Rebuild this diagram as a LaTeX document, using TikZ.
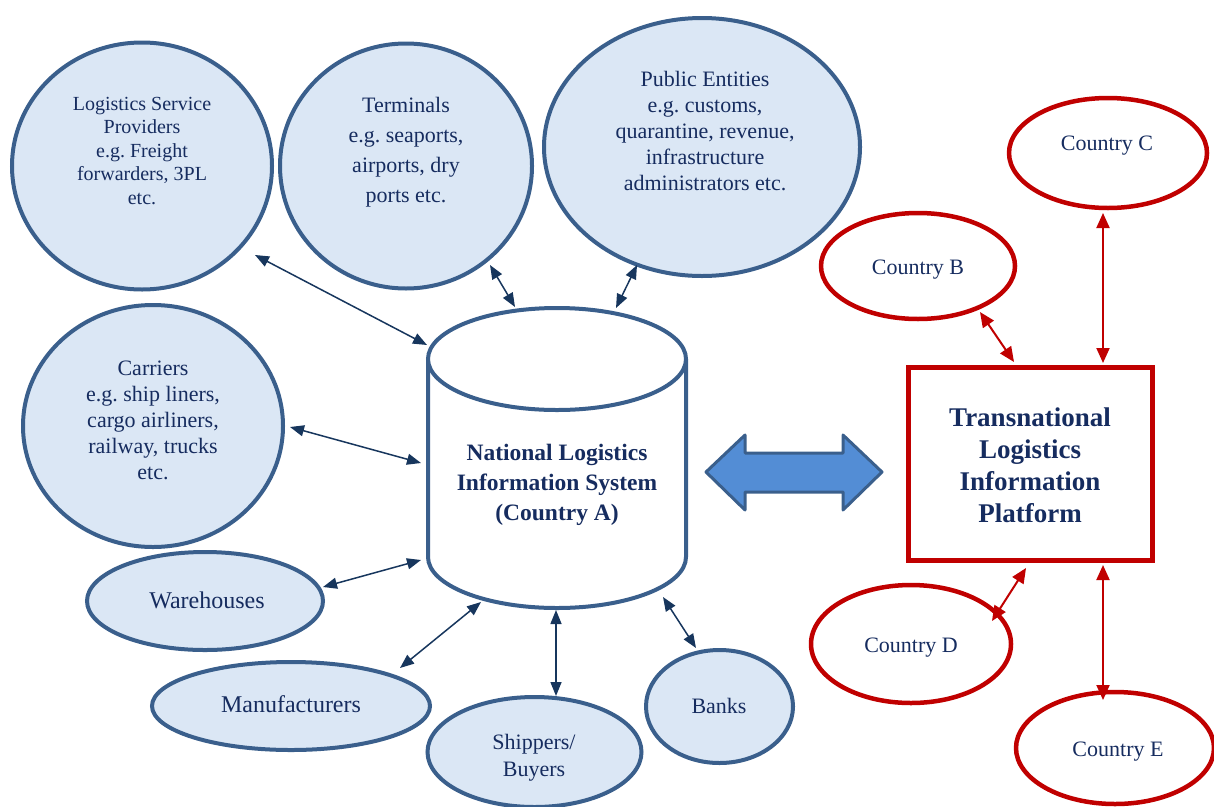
\documentclass[tikz,border=0pt]{standalone}
\usepackage{fontspec}
\setmainfont{Liberation Serif}
\frenchspacing
\usetikzlibrary{shapes.geometric,arrows.meta}
\definecolor{bstroke}{RGB}{58,95,140}
\definecolor{bfill}{RGB}{219,231,245}
\definecolor{navy}{RGB}{22,44,95}
\definecolor{connc}{RGB}{23,54,93}
\definecolor{redc}{RGB}{192,0,0}
\definecolor{arrfill}{RGB}{83,141,213}
\tikzset{
 bell/.style={ellipse, draw=bstroke, fill=bfill, line width=4pt, inner sep=0pt},
 rell/.style={ellipse, draw=redc, line width=4.5pt, inner sep=0pt},
 txt/.style={text=navy, align=center, inner sep=0pt, text height=0.7em, text depth=0.25em},
 bconn/.style={draw=connc, line width=1.5pt, {Triangle[length=14pt,width=11pt]}-{Triangle[length=14pt,width=11pt]}},
 rconn/.style={draw=redc, line width=2pt, {Triangle[length=15pt,width=13pt]}-{Triangle[length=15pt,width=13pt]}},
}
\begin{document}
\begin{tikzpicture}[x=1pt,y=-1pt]
\useasboundingbox (0,0) rectangle (1214,806);
% blue ellipses
\node[bell, minimum width=260, minimum height=247] (lsp) at (142,166) {};
\node[bell, minimum width=252, minimum height=245] (term) at (406,166) {};
\node[bell, minimum width=316, minimum height=258] (pub) at (702,147) {};
\node[bell, minimum width=260, minimum height=242] (carr) at (153,426) {};
\node[bell, minimum width=236, minimum height=98] (ware) at (205,601) {};
\node[bell, minimum width=278, minimum height=88] (manu) at (291,706) {};
\node[bell, minimum width=214, minimum height=110] (ship) at (534.5,752) {};
\node[bell, minimum width=147, minimum height=113] (bank) at (719.5,706.5) {};
% texts (node placed on last line)
\node[txt, font=\fontsize{20}{23.5}\selectfont] (lspT) at (142,202) {Logistics Service\\Providers\\e.g. Freight\\forwarders, 3PL\\etc.};
\node[txt, font=\fontsize{22}{30}\selectfont] (termT) at (406,200.7) {Terminals\\e.g. seaports,\\airports, dry\\ports etc.};
\node[txt, font=\fontsize{22}{26}\selectfont] (pubT) at (705,188.7) {Public Entities\\e.g. customs,\\quarantine, revenue,\\infrastructure\\administrators etc.};
\node[txt, font=\fontsize{22}{26}\selectfont] (carrT) at (153,477.7) {Carriers\\e.g. ship liners,\\cargo airliners,\\railway, trucks\\etc.};
\node[txt, font=\fontsize{24}{28}\selectfont] (wareT) at (207,606) {Warehouses};
\node[txt, font=\fontsize{24}{28}\selectfont] (manuT) at (291,710) {Manufacturers};
\node[txt, font=\fontsize{22}{27}\selectfont] (shipT) at (534,774.7) {Shippers/\\Buyers};
\node[txt, font=\fontsize{22}{27}\selectfont] (bankT) at (719,711.7) {Banks};
% cylinder
\fill[white] (428,359) -- (428,557) arc (180:0:129 and 51) -- (686,359) -- cycle;
\draw[bstroke, line width=4pt] (428,359) -- (428,557) arc (180:0:129 and 51) -- (686,359);
\draw[bstroke, line width=4pt, fill=white] (557,359) ellipse (129 and 51);
\node[txt, font=\bfseries\fontsize{23.5}{30}\selectfont] (nlis) at (557,518) {National Logistics\\Information System\\(Country A)};
% block arrow
\draw[bstroke, fill=arrfill, line width=3pt, line join=round]
 (706,472) -- (745,435) -- (745,453) -- (843,453) -- (843,435) -- (882,472)
 -- (843,510) -- (843,492) -- (745,492) -- (745,510) -- cycle;
% platform
\node[draw=redc, line width=5pt, minimum width=244, minimum height=193, inner sep=0pt] (tlip) at (1030,463.5) {};
\node[txt, font=\bfseries\fontsize{27}{32}\selectfont] (tlipT) at (1030,520) {Transnational\\Logistics\\Information\\Platform};
% countries
\node[rell, minimum width=198, minimum height=110] (cc) at (1108,153) {};
\node[rell, minimum width=194, minimum height=106] (cb) at (918,266) {};
\node[rell, minimum width=200, minimum height=118] (cd) at (911,644) {};
\node[rell, minimum width=198, minimum height=112] (ce) at (1115,748) {};
\node[txt, font=\fontsize{22}{26}\selectfont] (ccT) at (1107,148.7) {Country C};
\node[txt, font=\fontsize{22}{26}\selectfont] (cbT) at (918,272.7) {Country B};
\node[txt, font=\fontsize{22}{26}\selectfont] (cdT) at (911,650.7) {Country D};
\node[txt, font=\fontsize{22}{26}\selectfont] (ceT) at (1118,754.7) {Country E};
% connector end points
\coordinate (a1) at (255,255); \coordinate (a2) at (427,345);
\coordinate (b1) at (490,265); \coordinate (b2) at (515,307);
\coordinate (p1) at (637,265); \coordinate (p2) at (616,308);
\coordinate (k1) at (290,427); \coordinate (k2) at (421,463);
\coordinate (w1) at (323,587); \coordinate (w2) at (421,560);
\coordinate (m1) at (400,668); \coordinate (m2) at (481,602);
\coordinate (s1) at (556,696); \coordinate (s2) at (556,610);
\coordinate (n1) at (696,648); \coordinate (n2) at (663,597);
\draw[bconn] (a1) -- (a2);
\draw[bconn] (b1) -- (b2);
\draw[bconn] (p1) -- (p2);
\draw[bconn] (k1) -- (k2);
\draw[bconn] (w1) -- (w2);
\draw[bconn] (m1) -- (m2);
\draw[bconn] (s1) -- (s2);
\draw[bconn] (n1) -- (n2);
\coordinate (rc1) at (1103,213); \coordinate (rc2) at (1103,363);
\coordinate (rb1) at (980,312); \coordinate (rb2) at (1014,362);
\coordinate (rd1) at (992,621); \coordinate (rd2) at (1026,568);
\coordinate (re1) at (1103,700); \coordinate (re2) at (1103,565);
\draw[rconn] (rc1) -- (rc2);
\draw[rconn] (rb1) -- (rb2);
\draw[rconn] (rd1) -- (rd2);
\draw[rconn] (re1) -- (re2);
\end{tikzpicture}
\end{document}
